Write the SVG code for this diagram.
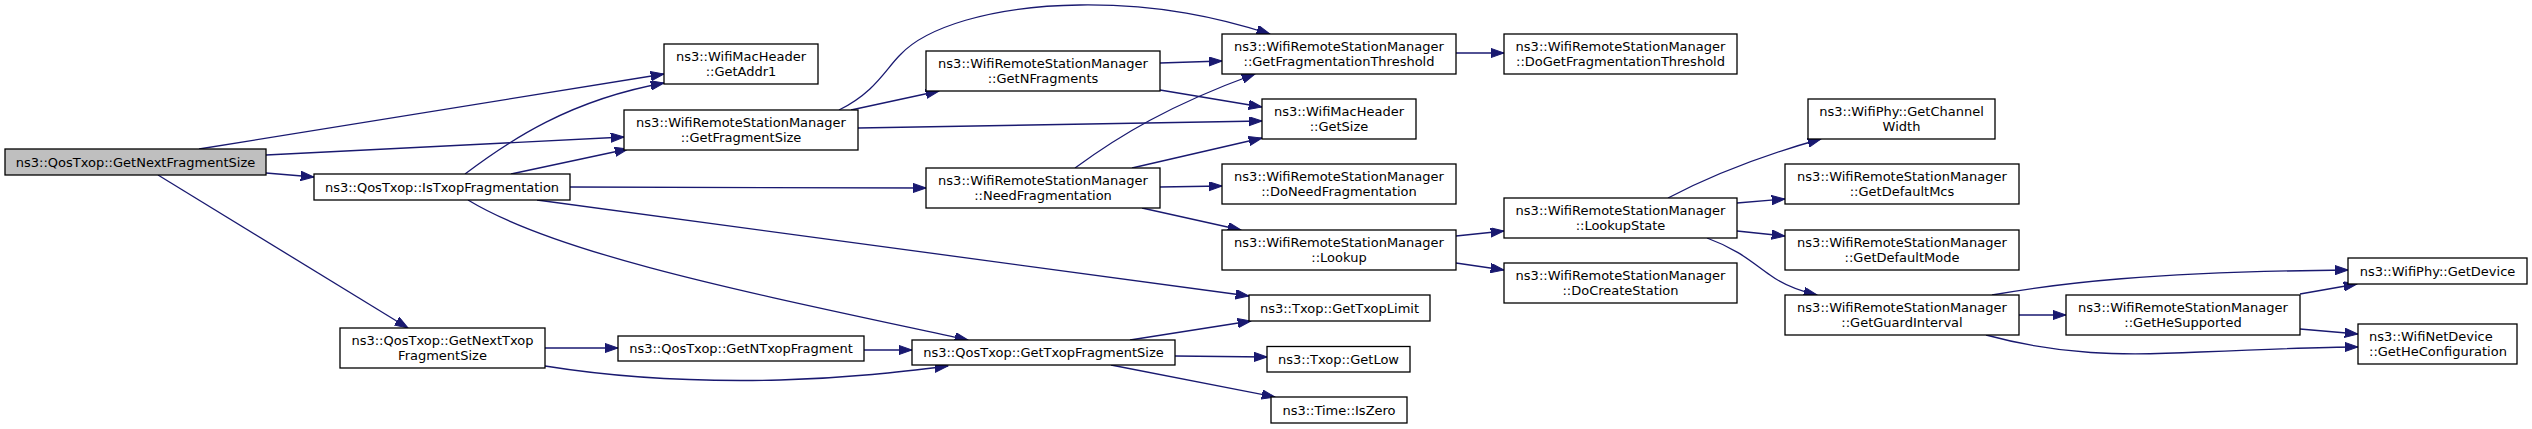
<svg xmlns="http://www.w3.org/2000/svg" width="2532" height="429" viewBox="0 0 2532 429">
<style>
.n rect{fill:#fff;stroke:#000;stroke-width:1.3}
.n.root rect{fill:#bfbfbf}
.n text{font-family:"DejaVu Sans",sans-serif;font-size:13px;fill:#000;text-anchor:middle}
.n text.l{text-anchor:start}
#edges path{fill:none;stroke:#191970;stroke-width:1.3;marker-end:url(#a)}
</style>
<defs>
<marker id="a" markerUnits="userSpaceOnUse" markerWidth="14" markerHeight="10" refX="13.3" refY="4.67" orient="auto" viewBox="0 0 14 10">
<path d="M0,0 L13.3,4.67 L0,9.33 z" fill="#191970" stroke="#191970" stroke-width="1"/>
</marker>
</defs>
<rect width="2532" height="429" fill="#fff"/>
<g id="edges">
<path d="M199,149 L664,74"/>
<path d="M266,155 L624,137"/>
<path d="M266,173 L314,177"/>
<path d="M158,175 L408,328"/>
<path d="M465,174 C510,140 570,100 664,83"/>
<path d="M511,174 L628,149"/>
<path d="M570,187 L926,188"/>
<path d="M537,200 L1249,296"/>
<path d="M468,200 C560,256 760,295 968,340"/>
<path d="M839,110 C875,92 885,70 900,55 C925,28 990,6 1080,5 C1160,4 1220,18 1270,34"/>
<path d="M851,110 L939,91"/>
<path d="M858,128 L1262,121"/>
<path d="M1160,63 L1222,61"/>
<path d="M1160,90 L1262,107"/>
<path d="M1075,168 C1120,135 1170,105 1255,74"/>
<path d="M1132,168 L1262,138"/>
<path d="M1160,187 L1222,186"/>
<path d="M1142,208 L1241,230"/>
<path d="M545,348 L618,348"/>
<path d="M545,366 C620,378 700,382 780,380 C850,378 900,372 948,366"/>
<path d="M864,350 L912,350"/>
<path d="M1130,340 L1251,321"/>
<path d="M1175,356 L1267,357"/>
<path d="M1111,365 L1275,397"/>
<path d="M1456,53 L1504,53"/>
<path d="M1456,236 L1504,231"/>
<path d="M1456,263 L1504,270"/>
<path d="M1668,198 C1710,176 1760,156 1821,139"/>
<path d="M1737,203 L1785,199"/>
<path d="M1737,231 L1785,236"/>
<path d="M1707,238 C1740,250 1755,265 1770,275 C1785,286 1800,291 1817,295"/>
<path d="M1992,295 C2060,283 2150,272 2348,270"/>
<path d="M2019,315 L2066,315"/>
<path d="M1986,335 C2060,355 2120,356 2200,352 C2270,349 2320,347 2358,347"/>
<path d="M2300,294 L2357,284"/>
<path d="M2300,329 L2358,334"/>
</g>
<g id="n_root" class="n root"><rect x="5" y="149" width="261" height="26"/><text x="135.5" y="166.5">ns3::QosTxop::GetNextFragmentSize</text></g>
<g id="n_istxopfrag" class="n"><rect x="314" y="174" width="256" height="26"/><text x="442" y="191.5">ns3::QosTxop::IsTxopFragmentation</text></g>
<g id="n_getnexttxopfragsize" class="n"><rect x="340" y="328" width="205" height="40"/><text x="442.5" y="345.2">ns3::QosTxop::GetNextTxop</text><text x="442.5" y="359.8">FragmentSize</text></g>
<g id="n_getaddr1" class="n"><rect x="664" y="44" width="154" height="40"/><text x="741" y="61.2">ns3::WifiMacHeader</text><text x="741" y="75.8">::GetAddr1</text></g>
<g id="n_getfragsize" class="n"><rect x="624" y="110" width="234" height="40"/><text x="741" y="127.2">ns3::WifiRemoteStationManager</text><text x="741" y="141.8">::GetFragmentSize</text></g>
<g id="n_getntxopfrag" class="n"><rect x="618" y="336" width="246" height="25"/><text x="741" y="353">ns3::QosTxop::GetNTxopFragment</text></g>
<g id="n_getnfragments" class="n"><rect x="926" y="51" width="234" height="40"/><text x="1043" y="68.2">ns3::WifiRemoteStationManager</text><text x="1043" y="82.8">::GetNFragments</text></g>
<g id="n_needfrag" class="n"><rect x="926" y="168" width="234" height="40"/><text x="1043" y="185.2">ns3::WifiRemoteStationManager</text><text x="1043" y="199.8">::NeedFragmentation</text></g>
<g id="n_gettxopfragsize" class="n"><rect x="912" y="340" width="263" height="25"/><text x="1043.5" y="357">ns3::QosTxop::GetTxopFragmentSize</text></g>
<g id="n_getfragthreshold" class="n"><rect x="1222" y="34" width="234" height="40"/><text x="1339" y="51.2">ns3::WifiRemoteStationManager</text><text x="1339" y="65.8">::GetFragmentationThreshold</text></g>
<g id="n_getsize" class="n"><rect x="1262" y="99" width="154" height="40"/><text x="1339" y="116.2">ns3::WifiMacHeader</text><text x="1339" y="130.8">::GetSize</text></g>
<g id="n_doneedfrag" class="n"><rect x="1222" y="164" width="234" height="40"/><text x="1339" y="181.2">ns3::WifiRemoteStationManager</text><text x="1339" y="195.8">::DoNeedFragmentation</text></g>
<g id="n_lookup" class="n"><rect x="1222" y="230" width="234" height="40"/><text x="1339" y="247.2">ns3::WifiRemoteStationManager</text><text x="1339" y="261.8">::Lookup</text></g>
<g id="n_gettxoplimit" class="n"><rect x="1249" y="295" width="181" height="26"/><text x="1339.5" y="312.5">ns3::Txop::GetTxopLimit</text></g>
<g id="n_getlow" class="n"><rect x="1267" y="346.5" width="143" height="25.5"/><text x="1338.5" y="363.5">ns3::Txop::GetLow</text></g>
<g id="n_iszero" class="n"><rect x="1271" y="397" width="136" height="26"/><text x="1339" y="414.5">ns3::Time::IsZero</text></g>
<g id="n_dogetfragthreshold" class="n"><rect x="1504" y="34" width="233" height="40"/><text x="1620.5" y="51.2">ns3::WifiRemoteStationManager</text><text x="1620.5" y="65.8">::DoGetFragmentationThreshold</text></g>
<g id="n_lookupstate" class="n"><rect x="1504" y="198" width="233" height="40"/><text x="1620.5" y="215.2">ns3::WifiRemoteStationManager</text><text x="1620.5" y="229.8">::LookupState</text></g>
<g id="n_docreatestation" class="n"><rect x="1504" y="263" width="233" height="40"/><text x="1620.5" y="280.2">ns3::WifiRemoteStationManager</text><text x="1620.5" y="294.8">::DoCreateStation</text></g>
<g id="n_getchannelwidth" class="n"><rect x="1808" y="99" width="187" height="40"/><text x="1901.5" y="116.2">ns3::WifiPhy::GetChannel</text><text x="1901.5" y="130.8">Width</text></g>
<g id="n_getdefaultmcs" class="n"><rect x="1785" y="164" width="234" height="40"/><text x="1902" y="181.2">ns3::WifiRemoteStationManager</text><text x="1902" y="195.8">::GetDefaultMcs</text></g>
<g id="n_getdefaultmode" class="n"><rect x="1785" y="230" width="234" height="40"/><text x="1902" y="247.2">ns3::WifiRemoteStationManager</text><text x="1902" y="261.8">::GetDefaultMode</text></g>
<g id="n_getguardinterval" class="n"><rect x="1785" y="295" width="234" height="40"/><text x="1902" y="312.2">ns3::WifiRemoteStationManager</text><text x="1902" y="326.8">::GetGuardInterval</text></g>
<g id="n_gethesupported" class="n"><rect x="2066" y="295" width="234" height="40"/><text x="2183" y="312.2">ns3::WifiRemoteStationManager</text><text x="2183" y="326.8">::GetHeSupported</text></g>
<g id="n_getdevice" class="n"><rect x="2348" y="258" width="179" height="26"/><text x="2437.5" y="275.5">ns3::WifiPhy::GetDevice</text></g>
<g id="n_gethecfg" class="n"><rect x="2358" y="324" width="159" height="40"/><text class="l" x="2369" y="341.2">ns3::WifiNetDevice</text><text class="l" x="2369" y="355.8">::GetHeConfiguration</text></g>
</svg>
